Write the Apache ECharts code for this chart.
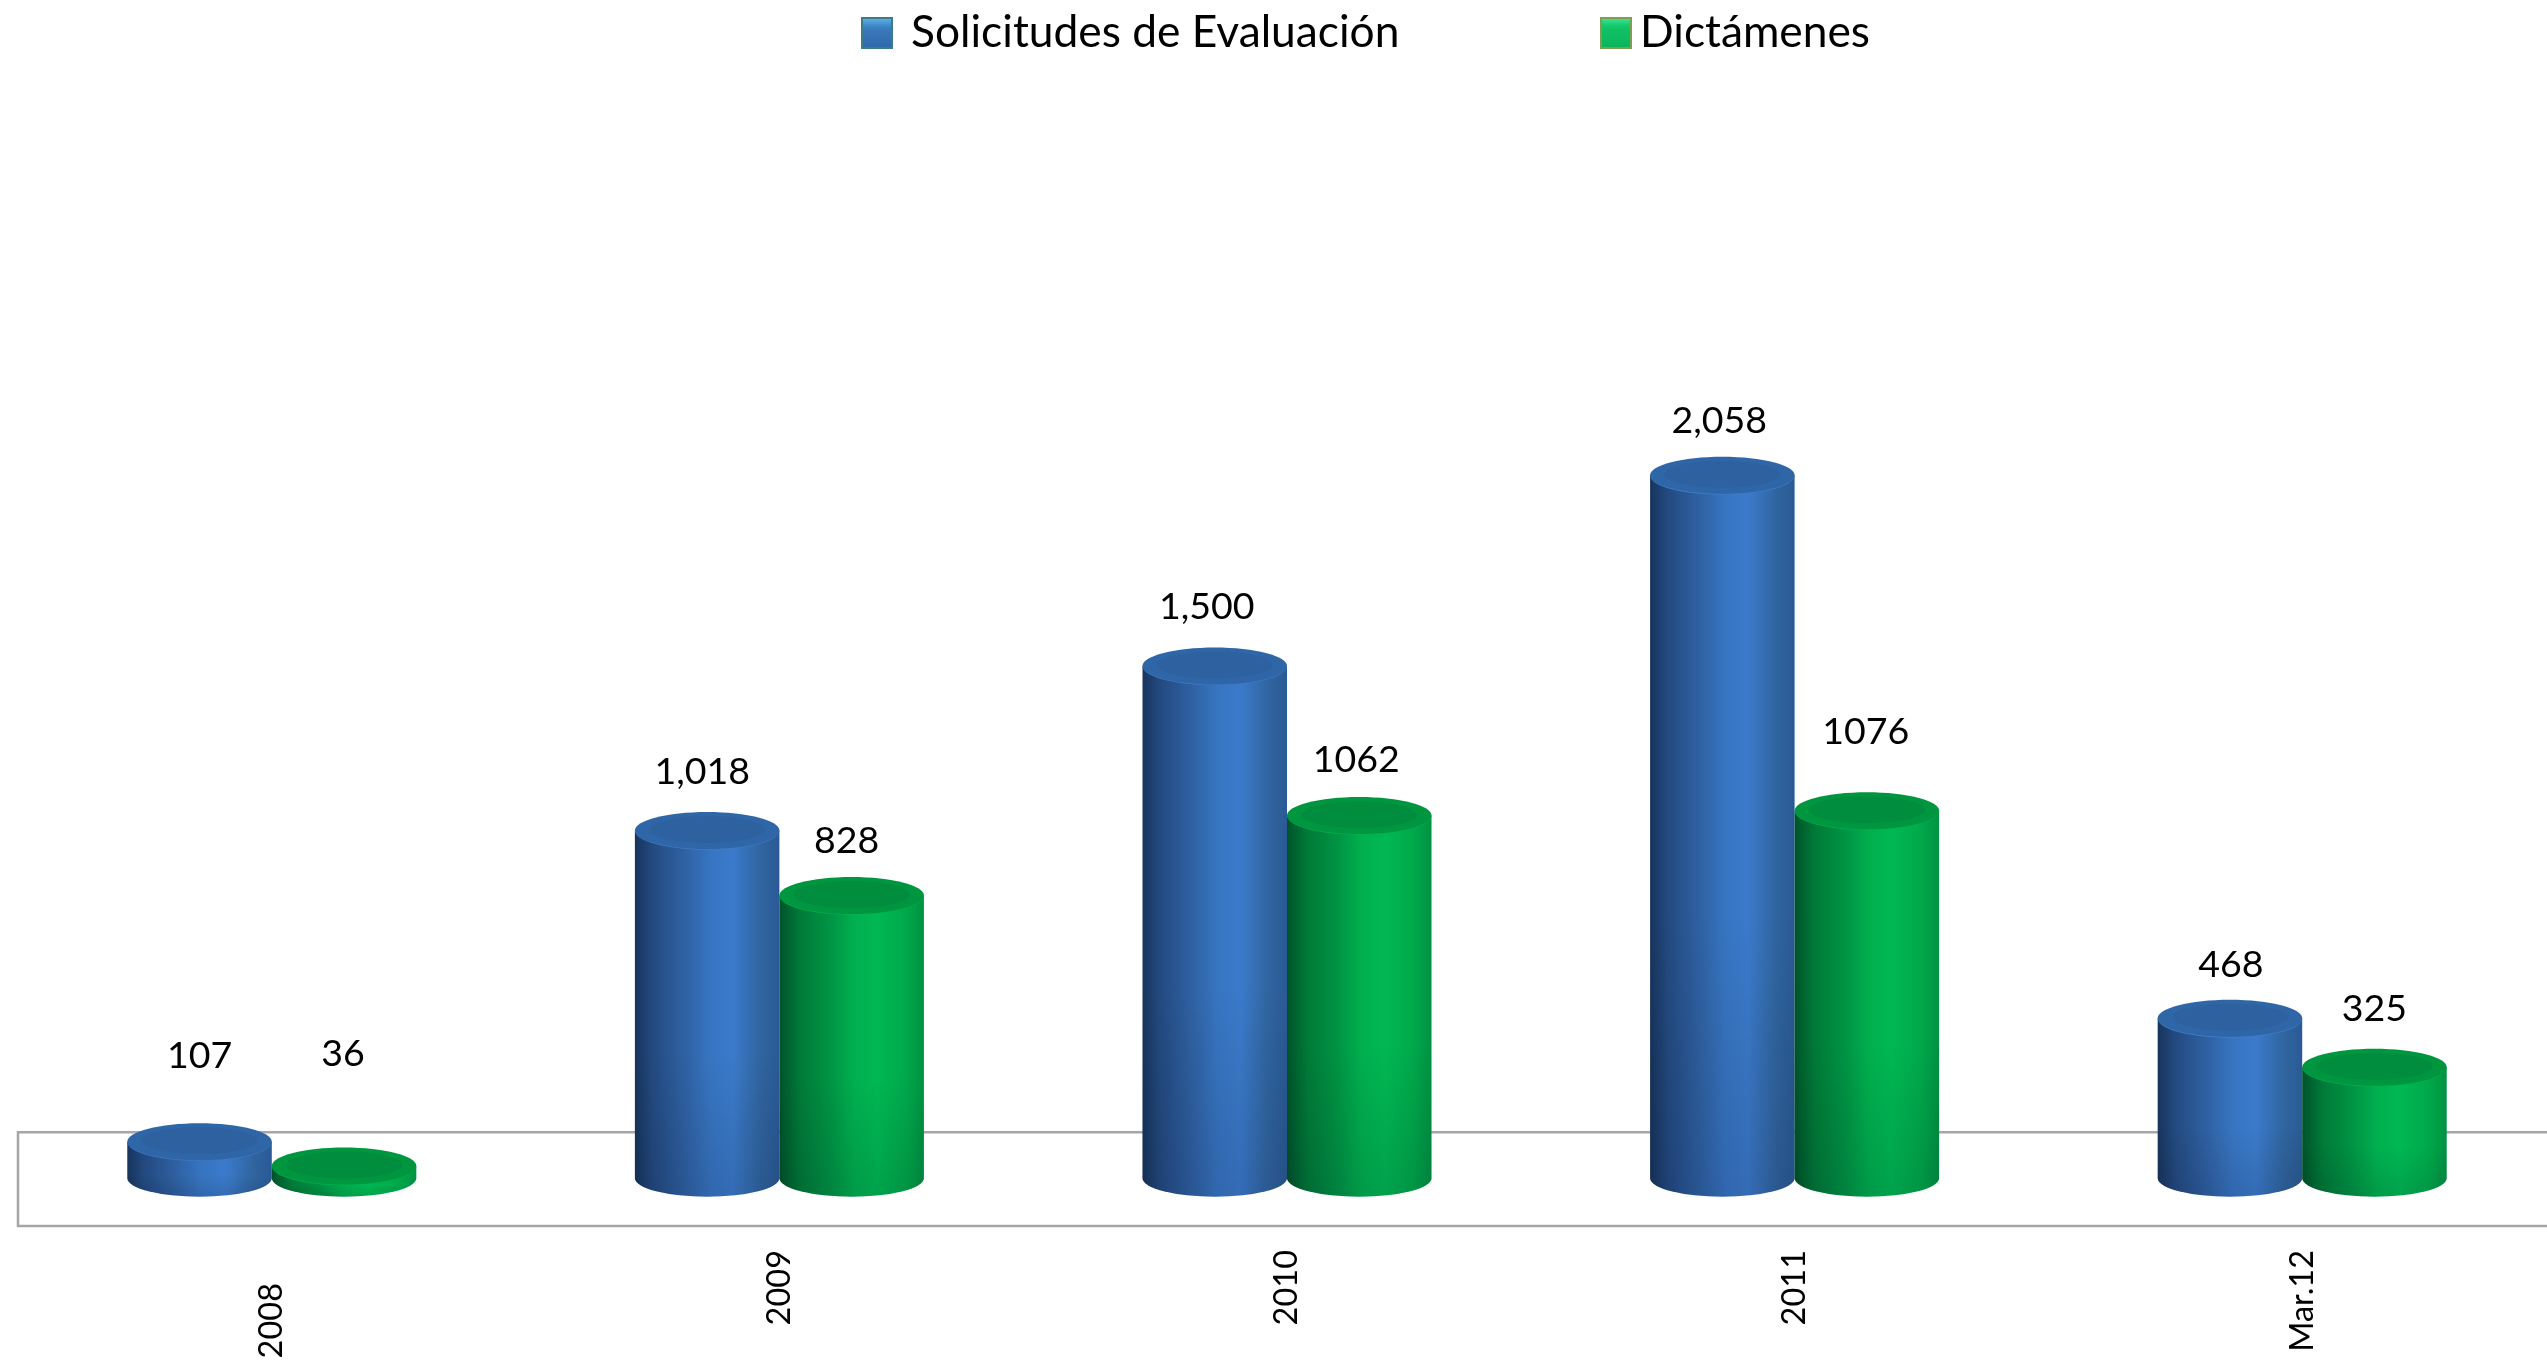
<!DOCTYPE html>
<html>
<head>
<meta charset="utf-8">
<style>html,body{margin:0;padding:0;background:#fff;overflow:hidden}#chart{width:2547px;height:1363px}</style>
<script src="https://cdn.jsdelivr.net/npm/echarts@6/dist/echarts.min.js"></script>
</head>
<body>
<div id="chart"></div>
<script>
var categories = ['2008', '2009', '2010', '2011', 'Mar.12'];
var solicitudes = [107, 1018, 1500, 2058, 468];
var dictamenes = [36, 828, 1062, 1076, 325];

// label nudges in px: [dx, gap above the cylinder]
var solicitudesLabelPos = [[0, 67], [-5, 40], [-8, 41], [-3, 36], [1, 35]];
var dictamenesLabelPos = [[-1, 93], [-5, 36], [-3, 37], [-1, 60], [0, 40]];

var FONT = 'Lato, "Open Sans", sans-serif';
var BAR_RATIO = 0.2847;
var CAP_RY = 18.5;

var blue = {
  body: [[0, '#17345c'], [0.12, '#234a80'], [0.35, '#2f62a4'], [0.52, '#3775c2'], [0.68, '#3b7acb'], [0.87, '#30659f'], [1, '#2a5a96']],
  cap: '#2f66a8', capInner: '#2e619f', rim: '#4079c4'
};
var green = {
  body: [[0, '#00532a'], [0.14, '#007a38'], [0.35, '#009444'], [0.52, '#00b04f'], [0.68, '#00b853'], [0.87, '#00a94b'], [1, '#009242']],
  cap: '#00953f', capInner: '#008d3d', rim: '#00b04f'
};

function lg(x, y, x2, y2, stops) {
  return new echarts.graphic.LinearGradient(x, y, x2, y2, stops.map(function (s) {
    return { offset: s[0], color: s[1] };
  }));
}

function cylinder(side, colors, labelPos, fmt) {
  return function (params, api) {
    var i = api.value(0);
    var val = api.value(1);
    var band = api.size([1, 0])[0];
    var w = band * BAR_RATIO;
    var top = api.coord([i, val]);
    var base = api.coord([i, 0]);
    var cx = top[0] + side * w / 2;
    var rx = w / 2;
    var ry = CAP_RY;
    var bodyPath = 'M' + (cx - rx) + ' ' + top[1] +
      'L' + (cx - rx) + ' ' + base[1] +
      'A' + rx + ' ' + ry + ' 0 0 0 ' + (cx + rx) + ' ' + base[1] +
      'L' + (cx + rx) + ' ' + top[1] + 'Z';
    var bodyShape = { pathData: bodyPath, layout: 'cover', x: cx - rx, y: top[1], width: w, height: base[1] - top[1] + ry };
    var p = labelPos[i];
    return {
      type: 'group',
      children: [
        { type: 'path', shape: bodyShape, style: { fill: lg(0, 0, 1, 0, colors.body) } },
        { type: 'path', shape: bodyShape,
          style: { fill: lg(0, 0, 0, 1, [[0, 'rgba(0,0,0,0)'], [0.6, 'rgba(0,0,0,0)'], [1, 'rgba(0,0,30,0.12)']]) } },
        { type: 'ellipse', shape: { cx: cx, cy: top[1] + 0.8, rx: rx - 0.5, ry: ry }, style: { fill: colors.rim } },
        { type: 'ellipse', shape: { cx: cx, cy: top[1], rx: rx, ry: ry }, style: { fill: colors.cap } },
        { type: 'ellipse', shape: { cx: cx, cy: top[1] - 1, rx: rx * 0.8, ry: ry * 0.72 }, style: { fill: colors.capInner } },
        { type: 'text', style: {
          x: cx + p[0], y: top[1] - ry - p[1], text: fmt(val), fill: '#000',
          font: '37.5px ' + FONT, align: 'center', verticalAlign: 'middle' } }
      ]
    };
  };
}

function withComma(v) { return v.toLocaleString('en-US'); }
function plain(v) { return String(v); }

function seriesRows(values) {
  return values.map(function (v, i) { return [i, v]; });
}

var chart = echarts.init(document.getElementById('chart'), null, { renderer: 'canvas' });
chart.setOption({
  animation: false,
  backgroundColor: '#fff',
  legend: [{
    left: 861, top: 11, padding: 0, itemWidth: 30, itemHeight: 30, icon: 'rect', selectedMode: false,
    textStyle: { fontFamily: FONT, fontSize: 44.3, color: '#000', padding: [0, 0, 0, 14] },
    data: [{ name: 'Solicitudes de Evaluación', itemStyle: { color: lg(0, 0, 0, 1, [[0, '#62bce8'], [0.28, '#3f86c6'], [0.4, '#3a78ba'], [1, '#2f69a9']]), borderColor: '#3d7a8c', borderWidth: 2 } }]
  }, {
    left: 1600, top: 11, padding: 0, itemWidth: 30, itemHeight: 30, icon: 'rect', selectedMode: false,
    textStyle: { fontFamily: FONT, fontSize: 44.3, color: '#000', padding: [0, 0, 0, 4] },
    data: [{ name: 'Dictámenes', itemStyle: { color: lg(0, 0, 0, 1, [[0, '#45e89c'], [0.28, '#14c86c'], [0.4, '#10c064'], [1, '#0cb45c']]), borderColor: '#7f9f50', borderWidth: 2 } }]
  }],
  grid: { left: 18, top: 0, width: 2538, height: 1226, outerBoundsMode: 'none' },
  xAxis: {
    type: 'category',
    data: categories.map(function (c, i) {
      return i === 0 ? { value: c, textStyle: { padding: [0, 33, 0, 0] } } : c;
    }),
    axisLine: { show: false },
    axisTick: { show: false },
    axisLabel: { rotate: 90, interval: 0, margin: 24, fontFamily: FONT, fontSize: 32.5, color: '#000', hideOverlap: false }
  },
  yAxis: { type: 'value', min: -140, max: 3450, show: false, splitLine: { show: false } },
  series: [{
    name: 'Solicitudes de Evaluación',
    type: 'custom',
    z: 3,
    clip: false,
    renderItem: cylinder(-1, blue, solicitudesLabelPos, withComma),
    encode: { x: 0, y: 1 },
    data: seriesRows(solicitudes),
    // the grey floor frame behind the cylinders
    markArea: {
      silent: true,
      z: 1,
      itemStyle: { color: 'rgba(255,255,255,0)', borderColor: '#a6a6a6', borderWidth: 2.5 },
      data: [[{ x: 18, yAxis: -140.5 }, { x: 2600, yAxis: 134.5 }]]
    }
  }, {
    name: 'Dictámenes',
    type: 'custom',
    z: 4,
    clip: false,
    renderItem: cylinder(1, green, dictamenesLabelPos, plain),
    encode: { x: 0, y: 1 },
    data: seriesRows(dictamenes)
  }]
});
</script>
</body>
</html>
